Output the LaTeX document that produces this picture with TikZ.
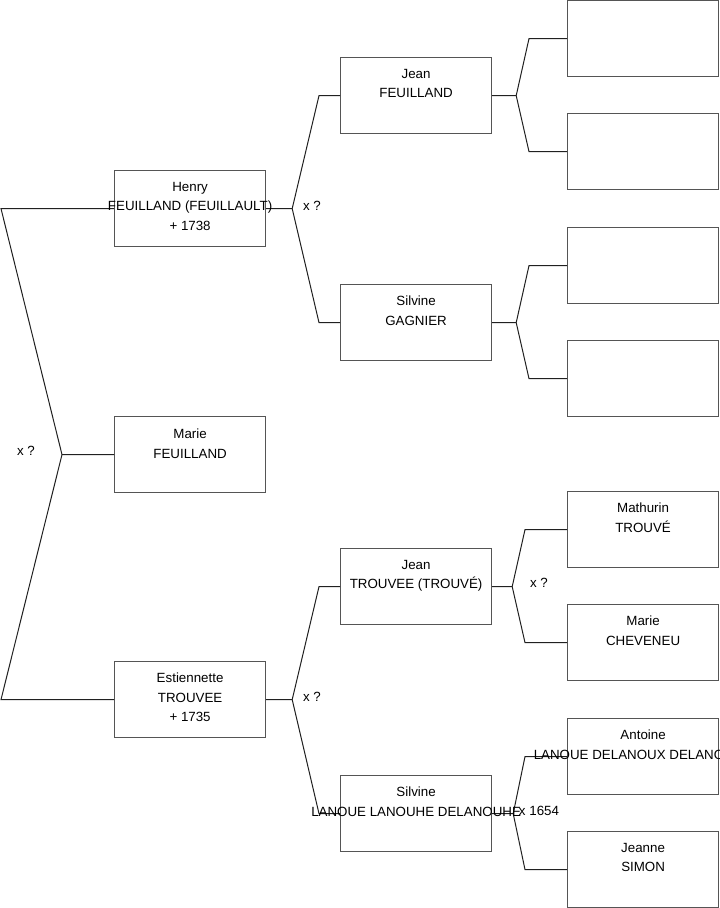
\documentclass[tikz,border=0pt]{standalone}
\usepackage{fontspec}
\setmainfont{Liberation Sans}
\usetikzlibrary{calc}
\definecolor{boxgray}{HTML}{555555}
\definecolor{linecol}{HTML}{202020}
\begin{document}
\begin{tikzpicture}[x=0.75pt,y=-0.75pt,
  box/.style={draw=boxgray, line width=0.9pt, minimum width=113.25pt, minimum height=57pt, inner sep=0pt, anchor=north west},
  txt/.style={font=\fontsize{10}{14.6}\selectfont, align=center, anchor=north, inner sep=0pt, text=black},
  lbl/.style={font=\fontsize{10}{14.6}\selectfont, inner sep=0pt, text=black},
  conn/.style={draw=linecol, line width=0.75pt}]
\clip (0,0) rectangle (719,908);
\useasboundingbox (0,0) rectangle (719,908);
% generation 1
\node[box] (henry) at (114,170) {};
\node[box] (marie) at (114,416) {};
\node[box] (estien) at (114,661) {};
% generation 2
\node[box] (jf) at (340,57) {};
\node[box] (sg) at (340,284) {};
\node[box] (jt) at (340,548) {};
\node[box] (sl) at (340,775) {};
% generation 3
\node[box] (g1) at (567,0) {};
\node[box] (g2) at (567,113) {};
\node[box] (g3) at (567,227) {};
\node[box] (g4) at (567,340) {};
\node[box] (g5) at (567,491) {};
\node[box] (g6) at (567,604) {};
\node[box] (g7) at (567,718) {};
\node[box] (g8) at (567,831) {};
% connectors, left fork
\coordinate (v0) at ($(marie.west)+(-52,0)$);
\draw[conn] (henry.west) -- ++(-113,0) -- (v0) -- (marie.west);
\draw[conn] (v0) -- ++(-61,245) -- (estien.west);
% Henry fork
\coordinate (v1) at ($(henry.east)+(26,0)$);
\draw[conn] (henry.east) -- (v1) -- ($(jf.west)+(-21,0)$) -- (jf.west);
\draw[conn] (v1) -- ($(sg.west)+(-21,0)$) -- (sg.west);
% Estiennette fork
\coordinate (v2) at ($(estien.east)+(26,0)$);
\draw[conn] (estien.east) -- (v2) -- ($(jt.west)+(-21,0)$) -- (jt.west);
\draw[conn] (v2) -- ($(sl.west)+(-21,0)$) -- (sl.west);
% Jean F fork
\coordinate (v3) at ($(jf.east)+(24,0)$);
\draw[conn] (jf.east) -- (v3) -- ($(g1.west)+(-38,0)$) -- (g1.west);
\draw[conn] (v3) -- ($(g2.west)+(-38,0)$) -- (g2.west);
% Silvine G fork
\coordinate (v4) at ($(sg.east)+(24,0)$);
\draw[conn] (sg.east) -- (v4) -- ($(g3.west)+(-38,0)$) -- (g3.west);
\draw[conn] (v4) -- ($(g4.west)+(-38,0)$) -- (g4.west);
% Jean T fork
\coordinate (v5) at ($(jt.east)+(20,0)$);
\draw[conn] (jt.east) -- (v5) -- ($(g5.west)+(-42,0)$) -- (g5.west);
\draw[conn] (v5) -- ($(g6.west)+(-42,0)$) -- (g6.west);
% Silvine L fork
\coordinate (v6) at ($(sl.east)+(21,0)$);
\draw[conn] (sl.east) -- (v6) -- ($(g7.west)+(-42,0)$) -- (g7.west);
\draw[conn] (v6) -- ($(g8.west)+(-42,0)$) -- (g8.west);
% texts
\node[txt] (thenry) at ($(henry.north)+(0,12)$) {Henry\\FEUILLAND (FEUILLAULT)\\+ 1738};
\node[txt] (tmarie) at ($(marie.north)+(0,13)$) {Marie\\FEUILLAND};
\node[txt] (testien) at ($(estien.north)+(0,12)$) {Estiennette\\TROUVEE\\+ 1735};
\node[txt] (tjf) at ($(jf.north)+(0,12)$) {Jean\\FEUILLAND};
\node[txt] (tsg) at ($(sg.north)+(0,12)$) {Silvine\\GAGNIER};
\node[txt] (tjt) at ($(jt.north)+(0,12)$) {Jean\\TROUVEE (TROUVÉ)};
\node[txt] (tsl) at ($(sl.north)+(0,12)$) {Silvine\\LANOUE LANOUHE DELANOUHE};
\node[txt] (tg5) at ($(g5.north)+(0,12)$) {Mathurin\\TROUVÉ};
\node[txt] (tg6) at ($(g6.north)+(0,12)$) {Marie\\CHEVENEU};
\node[txt] (tg7) at ($(g7.north)+(0,12)$) {Antoine\\LANOUE DELANOUX DELANOUHE};
\node[txt] (tg8) at ($(g8.north)+(0,12)$) {Jeanne\\SIMON};
% marriage labels
\node[lbl] (m0) at (26,451) {x ?};
\node[lbl] (m1) at (312,206) {x ?};
\node[lbl] (m2) at (312,697) {x ?};
\node[lbl] (m3) at (539,583) {x ?};
\node[lbl] (m4) at (539,811) {x 1654};
\end{tikzpicture}
\end{document}
